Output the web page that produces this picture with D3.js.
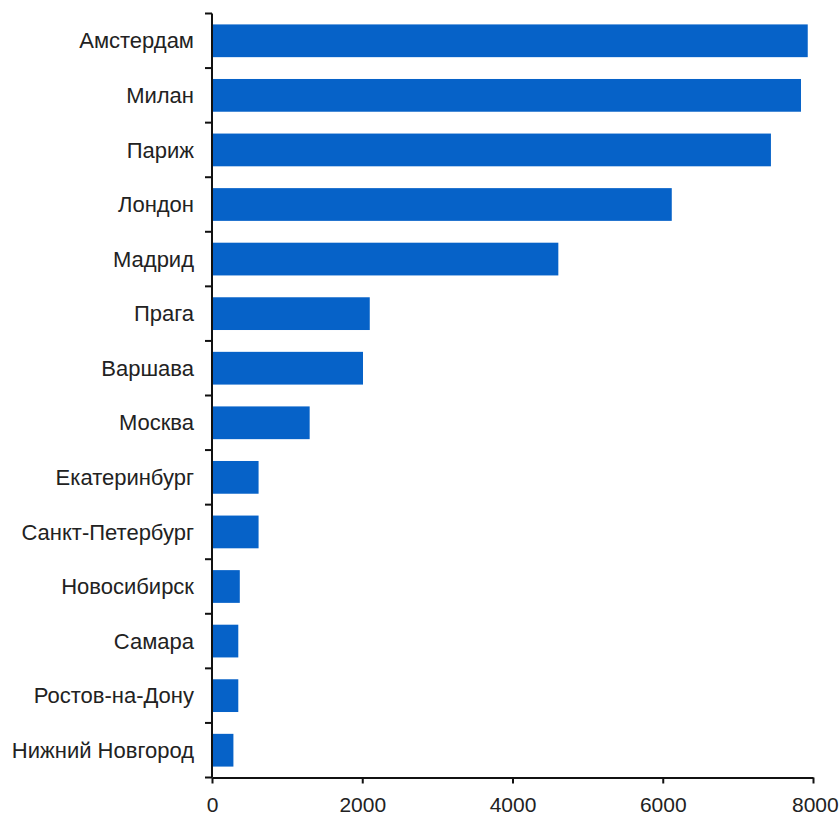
<!DOCTYPE html>
<html>
<head>
<meta charset="utf-8">
<script src="https://cdn.jsdelivr.net/npm/d3@7"></script>
<style>
  body { margin: 0; background: #fff; }
  svg { display: block; }
  .axis text { font-family: "Liberation Sans", Arial, sans-serif; fill: #222; }
</style>
</head>
<body>
<svg id="chart" width="840" height="816"></svg>
<script>
const cities = ["Амстердам", "Милан", "Париж", "Лондон", "Мадрид", "Прага", "Варшава",
  "Москва", "Екатеринбург", "Санкт-Петербург", "Новосибирск", "Самара",
  "Ростов-на-Дону", "Нижний Новгород"];
const values = [7930, 7840, 7440, 6120, 4610, 2100, 2010, 1300, 620, 620, 370, 350, 350, 285];
const xTicks = [0, 2000, 4000, 6000, 8000];

const data = cities.map((c, i) => ({ city: c, value: values[i] }));

const svg = d3.select("#chart");
const margin = { top: 13.5, right: 27, bottom: 38.5, left: 212 };
const width = 840, height = 816;
const fontSize = 22;

const x = d3.scaleLinear()
  .domain([0, 8000])
  .range([margin.left, width - margin.right]);

const y = d3.scaleBand()
  .domain(cities)
  .range([margin.top, height - margin.bottom])
  .paddingInner(0.4)
  .paddingOuter(0.2);

svg.selectAll("rect")
  .data(data)
  .join("rect")
  .attr("x", x(0) + 1)
  .attr("y", d => y(d.city))
  .attr("width", d => x(d.value) - x(0) - 1)
  .attr("height", y.bandwidth())
  .attr("fill", "#0662c8");

// y axis: ticks on category boundaries
const yAxis = svg.append("g").attr("class", "axis");
yAxis.append("line")
  .attr("x1", x(0)).attr("x2", x(0))
  .attr("y1", margin.top).attr("y2", height - margin.bottom)
  .attr("stroke", "#111").attr("stroke-width", 2);
const step = y.step();
const bounds = d3.range(cities.length + 1).map(i => margin.top + i * step);
yAxis.selectAll("line.tick")
  .data(bounds)
  .join("line")
  .attr("class", "tick")
  .attr("x1", x(0) - 7).attr("x2", x(0))
  .attr("y1", d => d).attr("y2", d => d)
  .attr("stroke", "#111").attr("stroke-width", 2);
yAxis.selectAll("text")
  .data(cities)
  .join("text")
  .attr("x", x(0) - 18)
  .attr("y", d => y(d) + y.bandwidth() / 2)
  .attr("dy", "0.35em")
  .attr("text-anchor", "end")
  .attr("font-size", fontSize)
  .text(d => d);

// x axis
const xAxis = svg.append("g")
  .attr("class", "axis")
  .attr("transform", `translate(0,${height - margin.bottom})`)
  .call(d3.axisBottom(x).tickValues(xTicks).tickFormat(d3.format("d"))
    .tickSize(6).tickPadding(14).tickSizeOuter(0));
xAxis.select(".domain").attr("stroke", "#111").attr("stroke-width", 2);
xAxis.selectAll(".tick line").attr("stroke", "#111").attr("stroke-width", 2);
xAxis.selectAll(".tick text").attr("font-size", 21);
xAxis.select(".tick:last-of-type text").attr("text-anchor", "end").attr("dx", "1.2em");
</script>
</body>
</html>
